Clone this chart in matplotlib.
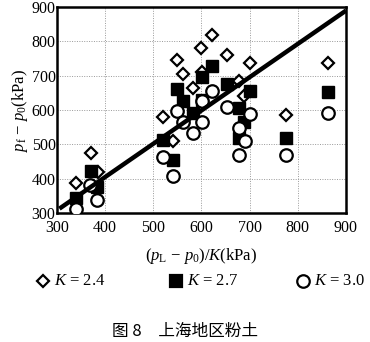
import matplotlib.pyplot as plt
from matplotlib.lines import Line2D

plt.rcParams['font.family'] = ['Liberation Serif', 'DejaVu Serif']
plt.rcParams['mathtext.fontset'] = 'custom'
plt.rcParams['mathtext.it'] = 'Liberation Serif:italic'
plt.rcParams['mathtext.rm'] = 'Liberation Serif'

# (p_L - p_0)/K and p_f - p_0 for each K, kPa
x_k24 = [340, 370, 385, 520, 540, 550, 562, 583, 600, 601, 621, 652, 677, 689, 701, 775, 862]
y_k24 = [388, 475, 420, 580, 510, 745, 705, 665, 780, 710, 820, 762, 685, 640, 738, 586, 738]

x_k27 = [340, 370, 383, 520, 541, 550, 562, 583, 601, 601, 621, 652, 677, 689, 677, 701, 775, 862]
y_k27 = [345, 424, 375, 513, 455, 662, 628, 593, 696, 630, 730, 675, 607, 566, 520, 656, 518, 654]

x_k30 = [339, 369, 383, 520, 541, 550, 562, 583, 601, 601, 621, 652, 677, 677, 691, 701, 775, 862]
y_k30 = [311, 382, 339, 463, 409, 596, 564, 533, 627, 564, 656, 610, 549, 469, 511, 588, 469, 591]

# fitted line p_f - p_0 = a * (p_L - p_0)/K + b
fit_a = 0.97
fit_b = 17
fit_x = [305, 900]

fig = plt.figure(figsize=(3.7, 3.42), dpi=100)
ax = fig.add_axes([0.154, 0.377, 0.781, 0.602])

ax.plot(x_k24, y_k24, linestyle='none', marker='D', markersize=6.5, mfc='white',
        mec='black', mew=1.6, zorder=3)
ax.plot(x_k27, y_k27, linestyle='none', marker='s', markersize=8.5, mfc='black',
        mec='black', zorder=4)
ax.plot(x_k30, y_k30, linestyle='none', marker='o', markersize=9, mfc='white',
        mec='black', mew=1.6, zorder=5)
ax.plot(fit_x, [fit_a * v + fit_b for v in fit_x], color='black', lw=3.2,
        solid_capstyle='butt', zorder=6)

ax.set_xlim(300, 900)
ax.set_ylim(300, 900)
ax.set_xticks(range(300, 901, 100))
ax.set_yticks(range(300, 901, 100))
ax.tick_params(length=0, labelsize=11.5)
ax.tick_params(axis='x', pad=5)
ax.tick_params(axis='y', pad=1)
ax.grid(True, color='#999999', linestyle=(0, (1, 1.5)), lw=0.7)
for s in ax.spines.values():
    s.set_linewidth(1.8)

ax.set_ylabel(r'$p_{\rm f}$ − $p_0$(kPa)', fontsize=12, labelpad=1)
ax.set_xlabel(r'($p_{\rm L}$ − $p_0$)/$K$(kPa)', fontsize=12, labelpad=7)

# legend row under the axes
legend_items = [('D', 'white', 6.5, r'$K$ = 2.4', 0.115),
                ('s', 'black', 9, r'$K$ = 2.7', 0.475),
                ('o', 'white', 9, r'$K$ = 3.0', 0.82)]
for mk, fc, ms, label, xpos in legend_items:
    fig.add_artist(Line2D([xpos], [0.178], marker=mk, markersize=ms, mfc=fc,
                          mec='black', mew=1.6, linestyle='none',
                          transform=fig.transFigure))
    fig.text(xpos + 0.03, 0.178, label, fontsize=12, va='center', ha='left')

fig.text(0.5, 0.03, '图 8　上海地区粉土', fontsize=12, ha='center', va='center',
         family=['Noto Sans CJK SC', 'DejaVu Sans'])

fig.savefig('out.png', dpi=100)
